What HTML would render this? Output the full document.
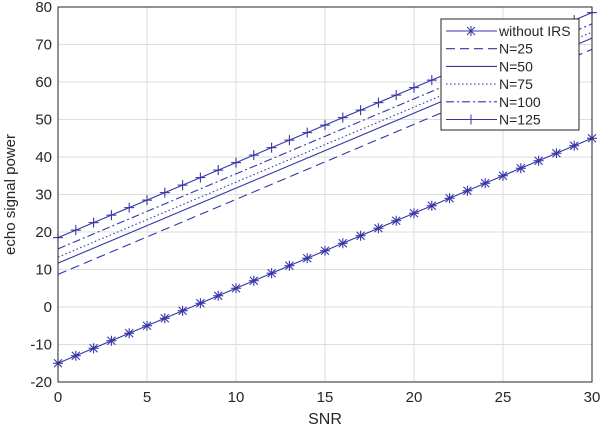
<!DOCTYPE html>
<html><head><meta charset="utf-8"><style>
body{margin:0;background:#fff;}
svg text{font-family:"Liberation Sans",sans-serif;fill:#262626;}
</style></head><body>
<svg id="c" width="606" height="428"></svg>
<script>
const xTicks=[0,5,10,15,20,25,30];
const yTicks=[-20,-10,0,10,20,30,40,50,60,70,80];
const snr=[];for(let i=0;i<=30;i++)snr.push(i);
const seriesNames=["without IRS","N=25","N=50","N=75","N=100","N=125"];
const startVals=[-15,8.7,11.7,13.3,15.5,18.5];
const endVals=[45,68.7,71.7,73.3,75.5,78.5];
const X0=58,X1=592,Y0=382,Y1=7;
const sx=v=>X0+(v-0)/30*(X1-X0);
const sy=v=>Y0-(v+20)/100*(Y0-Y1);
const svg=document.getElementById('c');const NS="http://www.w3.org/2000/svg";
function mk(t,a,p){const e=document.createElementNS(NS,t);for(const k in a)e.setAttribute(k,a[k]);(p||svg).appendChild(e);return e;}
mk('rect',{x:X0,y:Y1,width:X1-X0,height:Y0-Y1,fill:'#fff'});
xTicks.forEach(t=>{const l=mk('line',{x1:sx(t),x2:sx(t),y1:Y1,y2:Y0,stroke:'#dedede'});
const tx=mk('text',{x:sx(t),y:Y0+20,'text-anchor':'middle','font-size':15});tx.textContent=t;});
yTicks.forEach(t=>{const l=mk('line',{x1:X0,x2:X1,y1:sy(t),y2:sy(t),stroke:'#dedede'});
const tx=mk('text',{x:X0-6,y:sy(t)+5,'text-anchor':'end','font-size':15});tx.textContent=t;});
const col='#3535a8';
const dashes=[null,'9,5',null,'1.5,2.5','8,3,2,3',null];
seriesNames.forEach((n,i)=>{const vals=snr.map(s=>startVals[i]+(endVals[i]-startVals[i])*s/30);
const p=mk('polyline',{points:vals.map((v,j)=>sx(snr[j])+','+sy(v)).join(' '),fill:'none',stroke:col,'stroke-width':1.1});
if(dashes[i])p.setAttribute('stroke-dasharray',dashes[i]);

if(i==0||i==5)vals.forEach((v,j)=>{const g=mk('g',{stroke:col,'stroke-width':1.1});const x=sx(snr[j]),y=sy(v);
mk('line',{x1:x-5,x2:x+5,y1:y,y2:y},g);mk('line',{x1:x,x2:x,y1:y-5,y2:y+5},g);
if(i==0){mk('line',{x1:x-4,x2:x+4,y1:y-4,y2:y+4},g);mk('line',{x1:x-4,x2:x+4,y1:y+4,y2:y-4},g);}});});
mk('rect',{x:X0,y:Y1,width:X1-X0,height:Y0-Y1,fill:'none',stroke:'#262626'});
// legend
const lg=mk('g',{});
mk('rect',{x:441,y:19,width:138,height:111,fill:'#fff',stroke:'#262626'},lg);
seriesNames.forEach((n,i)=>{const y=31+i*17.7;const l=mk('line',{x1:446,x2:497,y1:y,y2:y,stroke:col,'stroke-width':1.1},lg);if(dashes[i])l.setAttribute('stroke-dasharray',dashes[i]);
if(i==0||i==5){mk('line',{x1:471,x2:471,y1:y-5,y2:y+5,stroke:col},lg);if(i==0){mk('line',{x1:467,x2:475,y1:y-4,y2:y+4,stroke:col},lg);mk('line',{x1:467,x2:475,y1:y+4,y2:y-4,stroke:col},lg);}}
const t=mk('text',{x:499,y:y+5,'font-size':14},lg);t.textContent=n;});
const xt=mk('text',{x:(X0+X1)/2,y:424,'text-anchor':'middle','font-size':16});xt.textContent='SNR';
const yt=mk('text',{x:0,y:0,'text-anchor':'middle','font-size':15,transform:'translate(15,'+((Y0+Y1)/2)+') rotate(-90)'});yt.textContent='echo signal power';
</script>
</body></html>
